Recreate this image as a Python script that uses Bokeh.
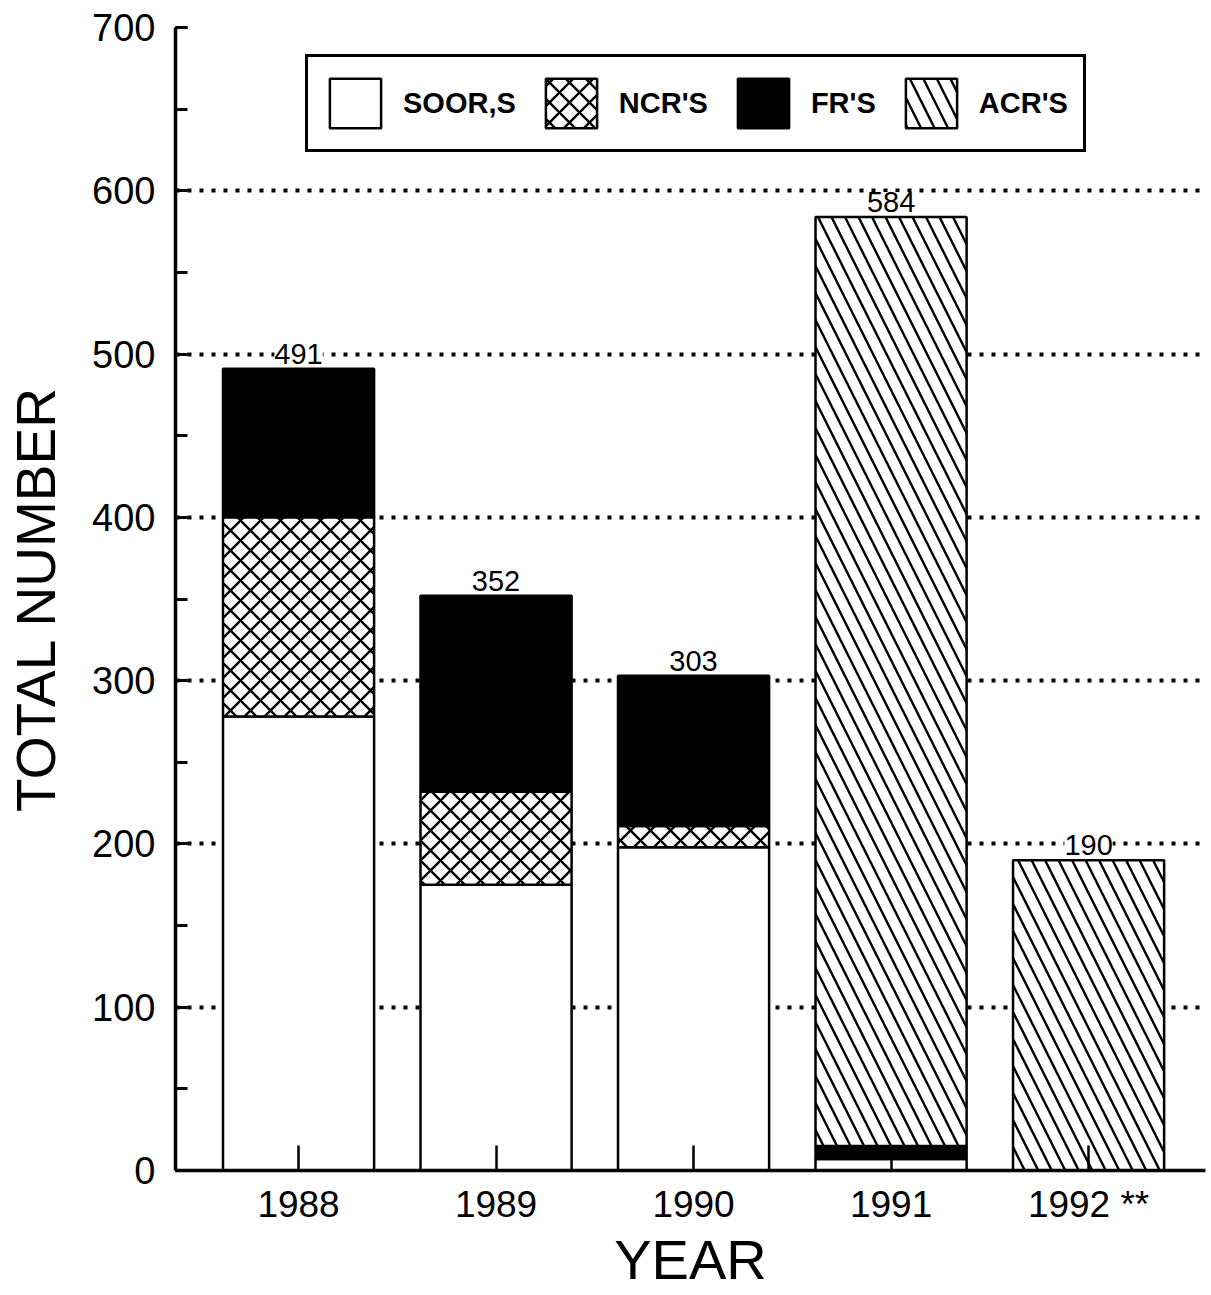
from bokeh.plotting import figure
from bokeh.models import (ColumnDataSource, Range1d, FixedTicker, SingleIntervalTicker,
                          LabelSet, Legend, LegendItem)
from bokeh.core.properties import value
from bokeh.embed import file_html
from bokeh.resources import INLINE

# ---- data ----
years = ["1988", "1989", "1990", "1991", "1992 **"]
soor = [278, 175, 198, 7, 0]
ncr = [122, 57, 13, 0, 0]
fr = [91, 120, 92, 8, 0]
acr = [0, 0, 0, 569, 190]
totals = [491, 352, 303, 584, 190]
grid_ticks = [100, 200, 300, 400, 500, 600]

FONT = "Liberation Sans"
xs = list(range(len(years)))

p = figure(width=1208, height=1293, output_backend="svg", toolbar_location=None,
           x_range=Range1d(-0.623, 4.592), y_range=Range1d(0, 700),
           min_border_left=175, min_border_right=3, min_border_top=27,
           min_border_bottom=123)
p.outline_line_color = None
p.background_fill_color = "white"
p.border_fill_color = "white"

series = [
    ("SOOR,S", soor, dict(fill_color="white")),
    ("NCR'S", ncr, dict(fill_color="white", hatch_pattern="x", hatch_color="black",
                        hatch_scale=20, hatch_weight=2.4)),
    ("FR'S", fr, dict(fill_color="black")),
    ("ACR'S", acr, dict(fill_color="white", hatch_pattern="\\", hatch_color="black",
                        hatch_scale=27, hatch_weight=2.4)),
]

bottoms = [0] * len(xs)
items = []
for name, vals, style in series:
    bx, bb, bt = [], [], []
    for i, v in enumerate(vals):
        if v > 0:
            bx.append(xs[i])
            bb.append(bottoms[i])
            bt.append(bottoms[i] + v)
        bottoms[i] += v
    src = ColumnDataSource(dict(x=bx, bottom=bb, top=bt))
    r = p.vbar(x="x", bottom="bottom", top="top", width=0.765, source=src,
               line_color="black", line_width=2.5, **style)
    items.append(LegendItem(label=name, renderers=[r]))

# value labels
lab_src = ColumnDataSource(dict(x=xs, y=totals, t=[str(v) for v in totals]))
labels = LabelSet(x="x", y="y", text="t", source=lab_src, y_offset=5,
                  text_align="center", text_baseline="bottom",
                  text_font=value(FONT), text_font_size=value("29px"),
                  text_color="black", background_fill_color="white")
p.add_layout(labels)

legend = Legend(items=items, orientation="horizontal", location=(130, 1018),
                border_line_color="black", border_line_width=3, border_line_alpha=1,
                background_fill_color="white", background_fill_alpha=1,
                label_text_font=FONT, label_text_font_style="bold",
                label_text_font_size="29px", label_text_color="black",
                glyph_width=64, glyph_height=62,
                label_standoff=16, spacing=23, padding=15, margin=0)
p.add_layout(legend)

# grid
p.xgrid.visible = False
p.ygrid.ticker = FixedTicker(ticks=grid_ticks)
p.ygrid.grid_line_color = "black"
p.ygrid.grid_line_width = 3.8
p.ygrid.grid_line_dash = "4 8"

# axes
xa = p.xaxis[0]
xa.ticker = FixedTicker(ticks=xs)
xa.major_label_overrides = {i: y for i, y in enumerate(years)}
xa.major_tick_in = 25
xa.major_tick_out = 0
xa.major_tick_line_width = 2.5
xa.minor_tick_line_color = None
xa.axis_line_width = 3.5
xa.major_label_text_font = FONT
xa.major_label_text_font_size = "37px"
xa.major_label_text_color = "black"
xa.major_label_standoff = 13
xa.axis_label = "YEAR"
xa.axis_label_text_font = FONT
xa.axis_label_text_font_size = "56px"
xa.axis_label_text_font_style = "normal"
xa.axis_label_text_color = "black"
xa.axis_label_standoff = 0

ya = p.yaxis[0]
ya.ticker = SingleIntervalTicker(interval=100, num_minor_ticks=2)
ya.major_tick_in = 12
ya.major_tick_out = 0
ya.minor_tick_in = 12
ya.minor_tick_out = 0
ya.major_tick_line_width = 3
ya.minor_tick_line_width = 3
ya.axis_line_width = 3.5
ya.major_label_text_font = FONT
ya.major_label_text_font_size = "38px"
ya.major_label_text_color = "black"
ya.major_label_standoff = 20
ya.axis_label = "TOTAL NUMBER"
ya.axis_label_text_font = FONT
ya.axis_label_text_font_size = "55px"
ya.axis_label_text_font_style = "normal"
ya.axis_label_text_color = "black"
ya.axis_label_standoff = 22

open("out.html", "w").write(file_html(p, INLINE))
